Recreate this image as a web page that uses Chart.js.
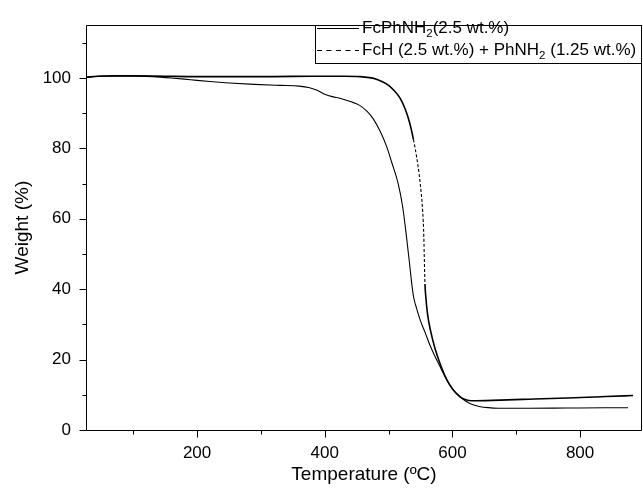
<!DOCTYPE html>
<html>
<head>
<meta charset="utf-8">
<title>TGA</title>
<script src="https://cdn.jsdelivr.net/npm/chart.js@4.4.0/dist/chart.umd.min.js"></script>
<style>
  body { margin: 0; background: #fff; }
</style>
</head>
<body>
<canvas id="mycanvas" width="643" height="490"></canvas>
<script>
// FcPhNH2 (2.5 wt.%) - solid line
var tempSolid = [26, 45, 70, 100, 130, 160, 190, 220, 250, 290, 330, 360, 375, 388, 400, 412, 425, 440, 454, 466, 476, 487, 497, 505, 515, 522, 528, 533, 537, 539.5, 544, 550, 557, 565, 573, 582, 591, 600, 610, 620, 630, 642, 656, 672, 720, 780, 840, 875];
var weightSolid = [100.2, 100.5, 100.6, 100.6, 100.4, 100.0, 99.5, 99.0, 98.6, 98.2, 97.9, 97.7, 97.3, 96.5, 95.4, 94.7, 94.2, 93.3, 92.3, 90.6, 88.4, 84.8, 80.5, 76, 70, 63.5, 55, 47, 40.5, 37.5, 34.5, 31, 27.8, 24, 20.8, 17.5, 14.2, 11.8, 9.8, 8.3, 7.3, 6.7, 6.35, 6.2, 6.2, 6.25, 6.3, 6.3];

// FcH (2.5 wt.%) + PhNH2 (1.25 wt.%) - dashed line
var tempDash = [26, 45, 70, 100, 150, 200, 260, 320, 380, 430, 455, 470, 482, 492, 500, 509, 518, 526, 533, 539, 544, 548, 551, 553.5, 555.2, 556.2, 557, 558.5, 561, 566, 573, 582, 592, 601, 612, 621, 630, 675, 720, 780, 840, 883];
var weightDash = [100.2, 100.5, 100.6, 100.6, 100.5, 100.4, 100.4, 100.4, 100.5, 100.5, 100.4, 100.1, 99.6, 98.8, 97.9, 96.4, 94.3, 91.2, 87.3, 82.5, 77.5, 72.5, 67.5, 62, 55, 47, 41.5, 37.5, 33, 28, 23, 18.2, 14, 11.4, 9.4, 8.6, 8.3, 8.5, 8.75, 9.1, 9.5, 9.8];

var xTickLabels = [200, 400, 600, 800];
var yTickLabels = [0, 20, 40, 60, 80, 100];
// [text, subscript, text after]
var legendSolid = ['FcPhNH', '2', '(2.5 wt.%)'];
var legendDash = ['FcH (2.5 wt.%) + PhNH', '2', ' (1.25 wt.%)'];

var FONT = "'Liberation Sans', Arial, sans-serif";
Chart.defaults.font.family = FONT;
Chart.defaults.color = '#000';

function toPoints(xs, ys) {
  var pts = [];
  for (var i in xs) {
    pts.push({x: xs[i], y: ys[i]});
  }
  return pts;
}

// frame + tick marks (major/minor)
var frameTicks = {
  id: 'frameTicks',
  afterDraw: function(chart) {
    var ctx = chart.ctx, a = chart.chartArea;
    var xs = chart.scales.x, ys = chart.scales.y;
    var L = Math.round(a.left) + 0.5, R = Math.round(a.right) - 0.5;
    var T = Math.round(a.top) + 0.5, B = Math.round(a.bottom) + 0.5;
    ctx.save();
    ctx.strokeStyle = '#000';
    ctx.lineWidth = 1;
    ctx.beginPath();
    ctx.moveTo(L, T); ctx.lineTo(R, T); ctx.lineTo(R, B); ctx.lineTo(L, B); ctx.closePath();
    ctx.stroke();
    ctx.beginPath();
    xs.ticks.forEach(function(t) {
      var px = Math.round(xs.getPixelForValue(t.value)) + 0.5;
      var len = xTickLabels.indexOf(t.value) >= 0 ? 7 : 4;
      ctx.moveTo(px, B); ctx.lineTo(px, B + len);
    });
    ys.ticks.forEach(function(t) {
      var py = Math.round(ys.getPixelForValue(t.value)) + 0.5;
      var len = yTickLabels.indexOf(t.value) >= 0 ? 7 : 4;
      ctx.moveTo(L, py); ctx.lineTo(L - len, py);
    });
    ctx.stroke();
    ctx.restore();
  }
};

// boxed legend with subscripts
var boxLegend = {
  id: 'boxLegend',
  afterDraw: function(chart) {
    var ctx = chart.ctx, a = chart.chartArea;
    var left = 315.5, top = Math.round(a.top) + 0.5, right = Math.round(a.right) - 0.5, bottom = 63.5;
    ctx.save();
    ctx.fillStyle = '#fff';
    ctx.fillRect(left, top, right - left, bottom - top);
    ctx.strokeStyle = '#000';
    ctx.lineWidth = 1;
    ctx.strokeRect(left, top, right - left, bottom - top);
    var rows = [
      {parts: legendSolid, y: 28.5, dash: [], w: 1.1},
      {parts: legendDash, y: 50.5, dash: [5, 4.5], w: 1.2}
    ];
    rows.forEach(function(r) {
      ctx.beginPath();
      ctx.setLineDash(r.dash);
      ctx.lineWidth = r.w;
      ctx.moveTo(317, r.y); ctx.lineTo(359, r.y);
      ctx.stroke();
      ctx.setLineDash([]);
      var x = 362;
      ctx.fillStyle = '#000';
      ctx.textBaseline = 'middle';
      ctx.font = '17px ' + FONT;
      ctx.fillText(r.parts[0], x, r.y);
      x += ctx.measureText(r.parts[0]).width;
      ctx.font = '11.5px ' + FONT;
      ctx.fillText(r.parts[1], x, r.y + 5.5);
      x += ctx.measureText(r.parts[1]).width;
      ctx.font = '17px ' + FONT;
      ctx.fillText(r.parts[2], x, r.y);
    });
    ctx.restore();
  }
};

var chartdata = {
  datasets: [
    {
      label: 'FcPhNH2 (2.5 wt.%)',
      data: toPoints(tempSolid, weightSolid),
      borderColor: '#000',
      borderWidth: 1.1,
      pointRadius: 0,
      cubicInterpolationMode: 'monotone'
    },
    {
      label: 'FcH (2.5 wt.%) + PhNH2 (1.25 wt.%)',
      data: toPoints(tempDash, weightDash),
      borderColor: '#000',
      borderWidth: 1.6,
      pointRadius: 0,
      cubicInterpolationMode: 'monotone',
      segment: {
        borderDash: function(c) {
          return (c.p0.parsed.x >= 539 && c.p1.parsed.x <= 557) ? [3, 2] : [];
        },
        borderWidth: function(c) {
          return (c.p0.parsed.x >= 539 && c.p1.parsed.x <= 557) ? 1.1 : 1.6;
        }
      }
    }
  ]
};

var ctx = document.getElementById('mycanvas');
var tga = new Chart(ctx, {
  type: 'line',
  data: chartdata,
  options: {
    responsive: false,
    animation: false,
    layout: { padding: { top: 16, right: 1, left: 0, bottom: 0 } },
    plugins: { legend: { display: false }, tooltip: { enabled: false } },
    scales: {
      x: {
        type: 'linear',
        min: 26,
        max: 897,
        afterFit: function(s) { s.height = 60; },
        grid: { display: false, drawTicks: false },
        border: { display: false },
        ticks: {
          stepSize: 100,
          includeBounds: false,
          autoSkip: false,
          maxRotation: 0,
          padding: 13,
          color: '#000',
          font: { size: 17 },
          callback: function(v) { return xTickLabels.indexOf(v) >= 0 ? v : ''; }
        },
        title: {
          display: true,
          text: 'Temperature (ºC)',
          color: '#000',
          font: { size: 19 },
          padding: { top: 0, bottom: 4 }
        }
      },
      y: {
        min: 0,
        max: 115,
        afterFit: function(s) { s.width = 86; },
        grid: { display: false, drawTicks: false },
        border: { display: false },
        ticks: {
          stepSize: 10,
          includeBounds: false,
          autoSkip: false,
          padding: 15,
          color: '#000',
          font: { size: 17 },
          callback: function(v) { return yTickLabels.indexOf(v) >= 0 ? v : ''; }
        },
        title: {
          display: true,
          text: 'Weight (%)',
          color: '#000',
          font: { size: 19 },
          padding: { top: 11, bottom: 0 }
        }
      }
    }
  },
  plugins: [frameTicks, boxLegend]
});
</script>
</body>
</html>
